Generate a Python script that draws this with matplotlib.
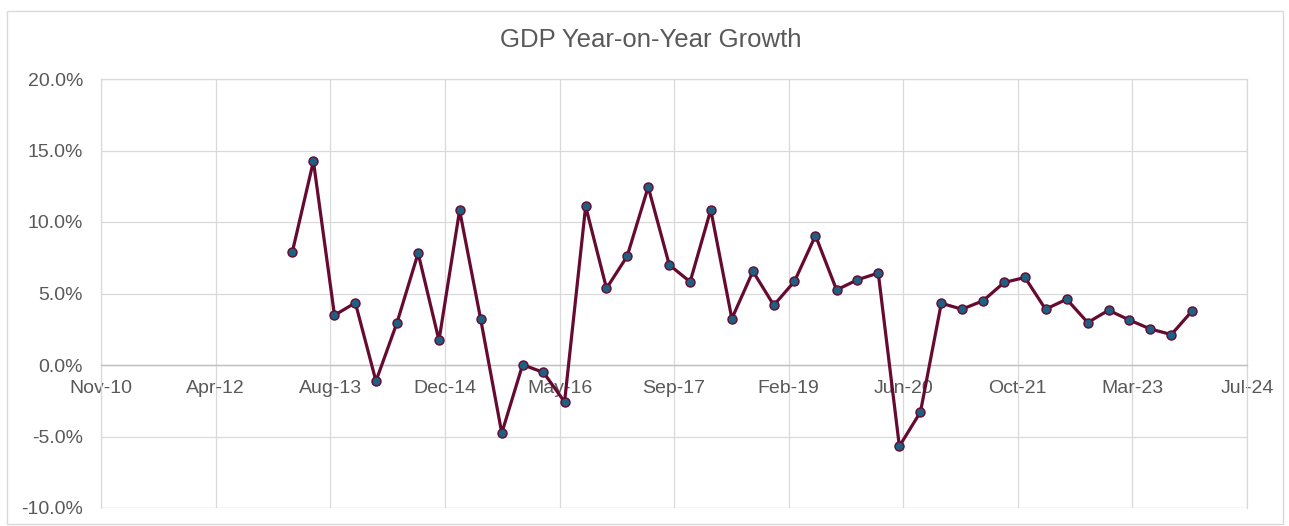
import numpy as np
import pandas as pd
import matplotlib
matplotlib.use("Agg")
import matplotlib.pyplot as plt
import matplotlib.dates as mdates
from matplotlib.patches import Rectangle
from matplotlib.ticker import FuncFormatter, MultipleLocator

# quarterly GDP growth, Mar-13 .. Dec-23 (percent)
quarters = pd.date_range(start="2013-03-01", periods=44, freq="3MS")
growth = [7.9, 14.25, 3.48, 4.35, -1.13, 2.97, 7.82, 1.72, 10.82, 3.2,
          -4.76, 0.02, -0.52, -2.58, 11.1, 5.36, 7.6, 12.45, 7.0, 5.82,
          10.86, 3.24, 6.55, 4.18, 5.84, 9.05, 5.25, 5.96, 6.43, -5.68,
          -3.29, 4.32, 3.9, 4.49, 5.77, 6.12, 3.9, 4.6, 2.97, 3.83,
          3.15, 2.52, 2.13, 3.79]

title = "GDP Year-on-Year Growth"
x_start = np.datetime64("2010-11-18")   # Excel axis min 40500, step 500 days
x_ticks = x_start + np.arange(11) * 500
y_min, y_max, y_step = -10, 20, 5

txt = "#595959"
grid_c = "#d9d9d9"

plt.rcParams["font.family"] = ["Liberation Sans", "DejaVu Sans"]

fig = plt.figure(figsize=(12.89, 5.26), dpi=100)
ax = fig.add_axes([101.2 / 1289, 18 / 526, 1145.8 / 1289, 429 / 526])

ax.plot(quarters, growth, color="#660a30", lw=2.3,
        marker="o", ms=6.5, mfc="#1f5f82", mec="#660a30", mew=1.0,
        zorder=3)

ax.set_xlim(x_ticks[0], x_ticks[-1])
ax.set_xticks(x_ticks)
ax.xaxis.set_major_formatter(mdates.DateFormatter("%b-%y"))
ax.set_ylim(y_min, y_max)
ax.yaxis.set_major_locator(MultipleLocator(y_step))
ax.yaxis.set_major_formatter(FuncFormatter(lambda v, p: f"{v:.1f}%"))

ax.grid(True, color=grid_c, lw=0.9, zorder=0)
for s in ["top", "right", "left"]:
    ax.spines[s].set_color(grid_c)
    ax.spines[s].set_linewidth(0.9)
ax.spines["bottom"].set_position(("data", 0))
ax.spines["bottom"].set_color("#bfbfbf")
ax.spines["bottom"].set_linewidth(1.0)
ax.axhline(y_min, color=grid_c, lw=0.9, zorder=0)

ax.tick_params(axis="x", length=0, pad=11, labelsize=14, labelcolor=txt)
ax.tick_params(axis="y", length=0, pad=13, labelsize=14, labelcolor=txt)

fig.text(651 / 1289, 1 - 40 / 526, title, ha="center", va="center",
         fontsize=18.5, color=txt)

fig.patches.append(Rectangle((6.5 / 1289, 1 - 524 / 526), 1276 / 1289, 513 / 526,
                             transform=fig.transFigure, fill=False,
                             edgecolor=grid_c, lw=1.0))

fig.savefig("out.png", dpi=100)
